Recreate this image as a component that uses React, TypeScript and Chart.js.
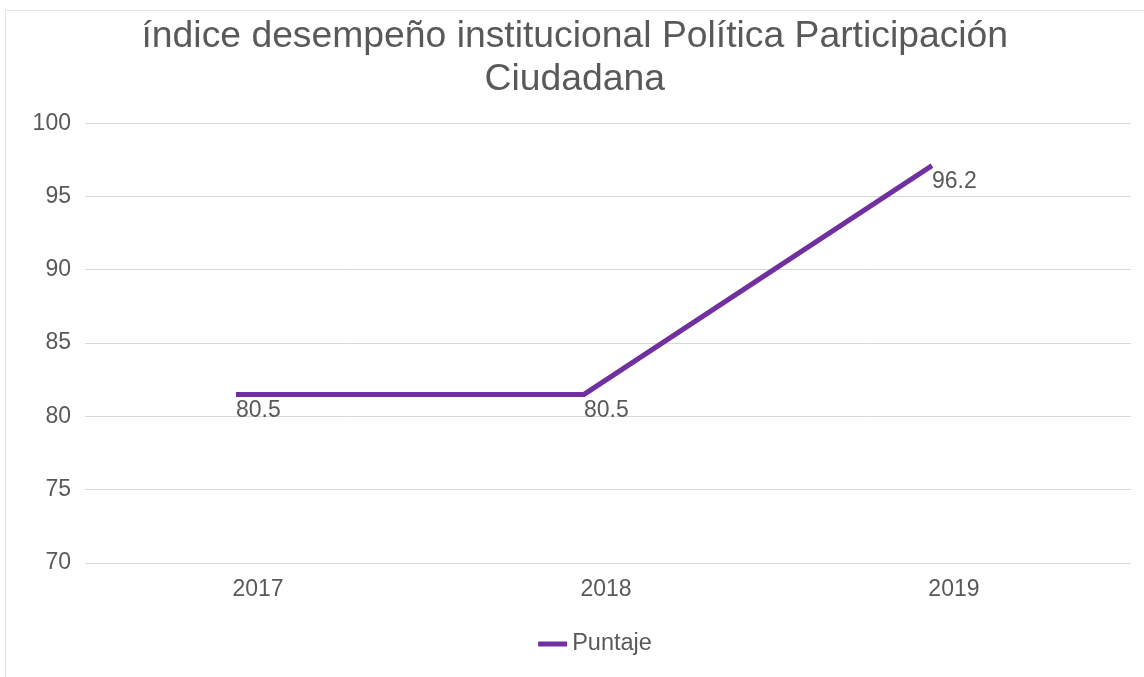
import React, { useEffect, useRef } from "react";
import { Chart, registerables } from "chart.js";

Chart.register(...registerables);

const categories = ["2017", "2018", "2019"];
const puntaje = [81.5, 81.5, 97.1];
const dataLabels = ["80.5", "80.5", "96.2"];
const yTicks = [70, 75, 80, 85, 90, 95, 100];
const titleLines = ["índice desempeño institucional Política Participación", "Ciudadana"];
const seriesName = "Puntaje";

const FONT = "'Liberation Sans', Arial, sans-serif";
const TEXT = "#595959";
const PURPLE = "#7030A0";

const labelPlugin = {
  id: "pointLabels",
  afterDatasetsDraw(chart: any) {
    const ctx = chart.ctx;
    const meta = chart.getDatasetMeta(0);
    ctx.save();
    ctx.font = `23px ${FONT}`;
    ctx.fillStyle = TEXT;
    ctx.textAlign = "left";
    ctx.textBaseline = "middle";
    meta.data.forEach((pt: any, i: number) => {
      ctx.fillText(dataLabels[i], pt.x, pt.y + 16);
    });
    ctx.restore();
  },
};

const legendPlugin = {
  id: "bottomLegend",
  afterDraw(chart: any) {
    const ctx = chart.ctx;
    ctx.save();
    ctx.font = `23.5px ${FONT}`;
    const tw = ctx.measureText(seriesName).width;
    const lineW = 29;
    const gap = 5;
    const total = lineW + gap + tw;
    const cx = chart.width / 2 + 23;
    const y = chart.chartArea.bottom + 81;
    const x0 = cx - total / 2;
    ctx.strokeStyle = PURPLE;
    ctx.lineWidth = 5;
    ctx.lineCap = "butt";
    ctx.beginPath();
    ctx.moveTo(x0, y);
    ctx.lineTo(x0 + lineW, y);
    ctx.stroke();
    ctx.fillStyle = TEXT;
    ctx.textAlign = "left";
    ctx.textBaseline = "middle";
    ctx.fillText(seriesName, x0 + lineW + gap, y);
    ctx.restore();
  },
};

export default function App() {
  const ref = useRef<HTMLCanvasElement | null>(null);
  useEffect(() => {
    if (!ref.current) return;
    const chart = new Chart(ref.current, {
      type: "line",
      data: {
        datasets: [
          {
            label: seriesName,
            data: puntaje.map((v, i) => ({ x: i, y: v })),
            borderColor: PURPLE,
            backgroundColor: PURPLE,
            borderWidth: 5,
            borderCapStyle: "butt",
            pointRadius: 0,
            tension: 0,
          },
        ],
      },
      options: {
        animation: false,
        responsive: false,
        maintainAspectRatio: false,
        layout: { padding: { left: 18.6, right: 13, top: 0, bottom: 55.5 } },
        plugins: {
          title: {
            display: true,
            text: titleLines,
            color: TEXT,
            font: { family: FONT, size: 37.3, weight: "normal", lineHeight: 1.155 },
            padding: { top: 15, bottom: 22 },
          },
          legend: { display: false },
          tooltip: { enabled: false },
        },
        scales: {
          x: {
            type: "linear",
            min: -0.434,
            max: 2.572,
            grid: { display: false, drawTicks: false },
            border: { display: false },
            afterBuildTicks: (axis: any) => {
              axis.ticks = categories.map((_, i) => ({ value: i }));
            },
            afterFit: (axis: any) => {
              axis.height = 58.5;
            },
            ticks: {
              color: TEXT,
              font: { family: FONT, size: 23 },
              padding: 13,
              labelOffset: 22,
              maxRotation: 0,
              autoSkip: false,
              callback: (v: any) => categories[v as number] ?? "",
            },
          },
          y: {
            min: 70,
            max: 100,
            afterBuildTicks: (axis: any) => {
              axis.ticks = yTicks.map((v) => ({ value: v }));
            },
            grid: { color: "#d9d9d9", lineWidth: 1, drawTicks: false },
            border: { display: false },
            ticks: {
              color: TEXT,
              font: { family: FONT, size: 23 },
              padding: 14,
              callback: (v: any) => String(v),
            },
          },
        },
      },
      plugins: [labelPlugin, legendPlugin],
    });
    return () => chart.destroy();
  }, []);

  return (
    <div style={{ position: "fixed", left: 0, top: 0, width: 1144, height: 677, background: "#fff" }}>
      <div
        style={{
          position: "absolute",
          left: 5,
          top: 10,
          width: 1160,
          height: 690,
          border: "1px solid #e3e3e3",
          boxSizing: "border-box",
        }}
      />
      <canvas ref={ref} width={1144} height={677} style={{ position: "absolute", left: 0, top: 0 }} />
    </div>
  );
}
